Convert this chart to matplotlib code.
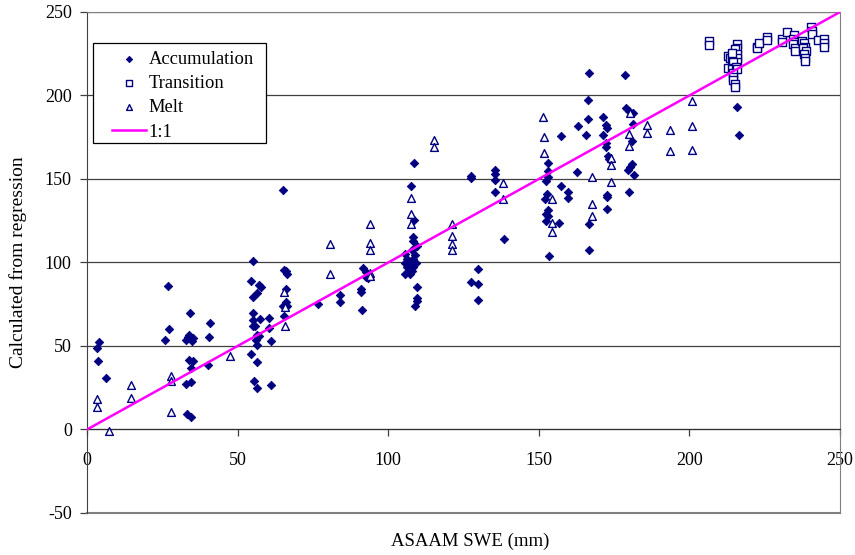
import matplotlib
matplotlib.use('Agg')
import matplotlib.pyplot as plt
from matplotlib.patches import Rectangle

# Accumulation points (ASAAM SWE, calculated)
acc_x = [4.1, 3.3, 3.7, 6.4, 27.0, 27.1, 26.0, 34.2, 33.4, 34.0, 35.2, 33.0, 34.8,
         40.8, 40.4, 34.0, 35.2, 34.5, 40.1, 32.8, 34.5, 33.1, 34.5,
         55.0, 54.3, 57.2, 57.7, 56.5, 55.0, 55.2, 55.0, 57.3, 55.0, 55.9, 56.4, 57.1,
         56.0, 56.4, 60.5, 60.5, 61.0, 54.4, 56.3, 55.3, 56.3, 61.0,
         65.5, 66.1, 66.5, 66.1, 65.4, 66.1, 65.2, 66.5, 65.0,
         76.6, 84.0, 84.0, 91.5, 92.6, 92.6, 93.4, 91.0, 91.0, 91.2,
         108.7, 107.5, 108.6, 108.3, 108.3, 109.4, 107.8, 105.6, 108.9, 106.2, 108.3,
         105.6, 107.8, 109.2, 106.2, 108.3, 107.8, 105.6, 107.2, 109.5, 109.7, 109.7, 108.9,
         127.4, 127.6, 135.5, 135.5, 135.5, 135.5, 138.5, 129.9, 127.4, 129.9, 129.9,
         166.7, 178.7, 166.4, 166.4, 162.9, 157.3, 165.7, 171.3, 172.4, 172.6, 171.3,
         172.2, 172.4, 173.1, 173.4, 179.0, 179.8, 181.4, 181.4, 180.9, 180.8, 180.3,
         179.7, 181.6, 179.9, 153.0, 153.2, 153.2, 152.4, 162.6, 157.3, 159.8, 159.8,
         152.8, 152.1, 153.2, 152.3, 153.2, 152.3, 156.7, 172.7, 172.7, 172.5, 166.7,
         166.7, 153.5, 215.7, 216.6]
acc_y = [52.2, 48.6, 40.9, 31.1, 86.1, 60.0, 53.8, 69.8, 55.2, 56.5, 54.5, 53.5, 53.0,
         63.8, 55.4, 41.7, 41.3, 36.9, 38.7, 27.3, 28.5, 9.4, 7.4,
         101.1, 88.7, 86.7, 85.3, 81.7, 79.1, 69.8, 65.8, 66.0, 61.8, 61.8, 56.8, 55.8,
         53.8, 50.8, 66.6, 61.0, 52.8, 45.3, 40.5, 28.9, 24.9, 26.9,
         95.7, 94.7, 93.3, 84.1, 67.8, 76.1, 73.7, 73.7, 143.5,
         75.2, 80.7, 76.4, 96.7, 94.1, 91.3, 90.7, 84.1, 82.1, 71.8,
         159.5, 145.9, 125.6, 115.3, 112.7, 109.7, 107.7, 105.3, 104.7, 102.1, 102.1,
         99.7, 99.7, 99.7, 97.3, 97.3, 94.7, 93.3, 93.3, 85.3, 78.8, 76.8, 73.8,
         150.5, 151.5, 155.5, 152.9, 149.5, 142.2, 114.0, 96.1, 88.1, 87.3, 77.3,
         213.3, 212.3, 197.0, 185.8, 181.5, 175.8, 176.4, 187.4, 182.4, 180.4, 176.4,
         171.8, 169.1, 163.5, 161.9, 192.4, 191.0, 189.8, 183.0, 173.0, 159.1, 157.1,
         155.5, 152.5, 142.2, 159.5, 154.9, 150.9, 148.5, 153.9, 145.9, 142.5, 138.5,
         141.0, 138.0, 131.6, 129.0, 127.6, 124.6, 123.6, 140.6, 139.5, 132.0, 123.0,
         107.7, 103.7, 193.0, 176.6]

# Transition points
tra_x = [206.6, 206.6, 215.7, 215.7, 215.1, 212.9, 213.6, 214.2, 215.7, 215.7, 215.7,
         214.0, 214.6, 212.9, 214.0, 215.4, 215.7, 214.4, 214.6, 214.6, 215.0, 215.0,
         222.3, 222.5, 223.2, 225.7, 225.7, 230.6, 230.6, 232.3,
         234.8, 234.5, 234.8, 234.5, 235.1, 235.1,
         237.5, 238.1, 238.4, 237.8, 238.6, 238.1, 238.4, 238.4,
         240.3, 240.6, 240.6, 242.8, 244.8, 244.8, 244.8]
tra_y = [232.5, 230.1, 231.1, 228.6, 228.0, 223.7, 222.7, 221.7, 224.6, 222.6, 220.3,
         225.3, 220.3, 216.3, 215.6, 217.0, 215.6, 213.3, 211.1, 209.5, 207.1, 205.1,
         229.3, 228.3, 231.3, 235.2, 233.2, 233.9, 231.9, 237.9,
         236.2, 233.9, 232.3, 230.7, 228.3, 226.7,
         232.7, 231.3, 229.3, 228.3, 226.7, 224.7, 222.7, 220.7,
         240.8, 238.4, 236.8, 233.3, 233.9, 231.3, 229.0]

# Melt points
melt_x = [3.4, 3.4, 7.3, 14.6, 14.6, 28.0, 28.0, 28.0, 47.6, 65.5, 65.6, 65.6,
          80.7, 80.7, 94.0, 94.0, 94.0, 94.0, 94.0, 107.5, 107.5, 107.5, 115.2, 115.2,
          121.2, 121.2, 121.2, 121.2, 138.2, 138.2, 151.4, 151.6, 151.6, 154.5, 154.5,
          154.5, 167.7, 167.7, 167.7, 174.1, 174.1, 174.1, 180.3, 180.0, 180.0, 186.0,
          186.0, 193.7, 193.7, 200.9, 200.9, 200.9]
melt_y = [18.3, 13.6, -0.8, 26.7, 18.9, 32.3, 28.9, 10.6, 43.8, 82.3, 73.4, 61.8,
          111.1, 93.1, 123.0, 111.7, 107.2, 93.7, 91.7, 138.6, 129.0, 123.0, 173.4, 169.4,
          123.0, 115.6, 111.1, 107.7, 147.5, 138.0, 187.4, 175.0, 165.4, 138.0, 123.6,
          118.0, 151.1, 135.2, 128.0, 162.7, 158.1, 148.1, 189.5, 177.0, 169.9, 182.2,
          177.8, 179.4, 166.9, 196.4, 181.5, 167.5]

one_to_one = [0, 250]
ticks = [-50, 0, 50, 100, 150, 200, 250]
x_ticks = [0, 50, 100, 150, 200, 250]

navy = '#000080'
plt.rcParams['font.family'] = ['Liberation Serif', 'DejaVu Serif']
plt.rcParams['axes.unicode_minus'] = False

fig = plt.figure(figsize=(8.55, 5.55), dpi=100)
ax = fig.add_axes([0.1018, 0.0757, 0.8807, 0.9027])

ax.scatter(acc_x, acc_y, marker='D', s=4.3 ** 2, color=navy, linewidths=0.6,
           label='Accumulation', zorder=3)
ax.scatter(tra_x, tra_y, marker='s', s=5.2 ** 2, facecolors='white', edgecolors=navy,
           linewidths=1.0, label='Transition', zorder=3)
ax.scatter(melt_x, melt_y, marker='^', s=5.6 ** 2, facecolors='white', edgecolors=navy,
           linewidths=1.0, label='Melt', zorder=3)
ax.plot(one_to_one, one_to_one, color='#ff00ff', lw=1.8, label='1:1', zorder=4)

ax.set_xlim(0, 250)
ax.set_ylim(-50, 250)
ax.set_xticks(x_ticks)
ax.set_yticks(ticks)
ax.yaxis.grid(True, color='#404040', lw=0.9)
ax.set_axisbelow(True)

# x axis crosses at y = 0, frame kept as a box
ax.spines['bottom'].set_position(('data', 0))
ax.spines['bottom'].set_color('#303030')
for side in ['right', 'top']:
    ax.spines[side].set_color('#808080')
ax.spines['left'].set_color('#404040')
ax.axhline(-50, color='#808080', lw=1.5, clip_on=False, zorder=1)

ax.tick_params(axis='x', direction='out', length=5, width=0.9, color='#404040',
               pad=11, labelsize=13)
ax.tick_params(axis='y', direction='out', length=5, width=0.9, color='#404040',
               pad=6, labelsize=13)

fig.text(0.55, 0.025, 'ASAAM SWE (mm)', fontsize=13.5, ha='center', va='center')
fig.text(0.021, 0.528, 'Calculated from regression', fontsize=14, rotation=90,
         ha='center', va='center')

# legend box drawn by hand so the entries can sit where the original has them
ax.add_patch(Rectangle((0.008, 0.7385), 0.2297, 0.1995, transform=ax.transAxes,
                       facecolor='white', edgecolor='black', lw=0.9, zorder=5))
leg = ax.legend(loc='upper left', bbox_to_anchor=(0.0332, 0.923), borderaxespad=0,
                fontsize=13.3, frameon=False, labelspacing=0.40, handlelength=1.85,
                handletextpad=0.12, borderpad=0, markerscale=0.75)
leg.set_zorder(6)

fig.savefig('out.png', dpi=100)
